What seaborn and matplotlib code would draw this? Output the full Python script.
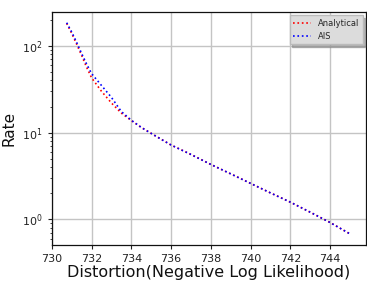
import numpy as np
import pandas as pd
import matplotlib
matplotlib.use("Agg")
import matplotlib.pyplot as plt
from matplotlib.ticker import LogLocator, NullFormatter
import seaborn as sns

distortion = [730.75, 731.0, 731.25, 731.5, 731.75, 732.0, 732.5, 733.0, 733.5, 734.0,
              734.5, 735.0, 736.0, 737.0, 738.0, 739.0, 740.0, 741.0, 742.0, 743.0,
              744.0, 745.05]
rate_analytical = [182, 140, 105, 78, 57, 43, 30, 22, 16.8, 13.8,
                   11.5, 9.8, 7.2, 5.6, 4.3, 3.35, 2.6, 2.02, 1.58, 1.21,
                   0.92, 0.67]
rate_ais = [185, 145, 110, 82, 62, 48, 35, 25.5, 17.5, 13.9,
            11.5, 9.8, 7.2, 5.6, 4.3, 3.35, 2.6, 2.02, 1.58, 1.21,
            0.92, 0.67]
series_names = ["Analytical", "AIS"]

df = pd.concat([
    pd.DataFrame({"x": distortion, "y": rate_analytical, "s": series_names[0]}),
    pd.DataFrame({"x": distortion, "y": rate_ais, "s": series_names[1]}),
])

sns.set_style("ticks")
plt.rcParams['font.family'] = ['DejaVu Sans']
fig = plt.figure(figsize=(3.67, 2.82), dpi=100)
ax = fig.add_axes([0.141, 0.131, 0.856, 0.826])

sns.lineplot(data=df, x="x", y="y", hue="s", palette={"Analytical": "red", "AIS": "blue"},
             linewidth=1.2, ax=ax, sort=False)
for ln in ax.get_lines():
    ln.set_linestyle(":")
ax.set_yscale("log")
ax.yaxis.set_minor_locator(LogLocator(base=10, subs=np.arange(2, 10)))
ax.yaxis.set_minor_formatter(NullFormatter())
ax.set_xlim(730, 745.8)
ax.set_xticks([730, 732, 734, 736, 738, 740, 742, 744])
ax.grid(True, which="major", color="#c4c4c4", linewidth=1.0)
ax.set_axisbelow(True)
ax.tick_params(labelsize=8, length=3, width=0.8, colors="#222222", labelcolor="#222222")
ax.tick_params(axis="y", which="minor", length=1.8, width=0.6, left=True, colors="#222222")
for sp in ax.spines.values():
    sp.set_color("#111111")
    sp.set_linewidth(0.9)
ax.set_xlabel("Distortion(Negative Log Likelihood)", fontsize=11.5, labelpad=1, color="#111111")
ax.set_ylabel("Rate", fontsize=11, color="#111111")
leg = ax.legend(loc="upper right", fontsize=6, shadow={"color": "#888888", "alpha": 0.6},
                fancybox=False, facecolor="#dcdcdc", edgecolor="#bbbbbb", framealpha=1,
                handlelength=2.2, borderaxespad=0.4)
for h in leg.get_lines():
    h.set_linestyle(":")
fig.savefig("out.png", dpi=100)
